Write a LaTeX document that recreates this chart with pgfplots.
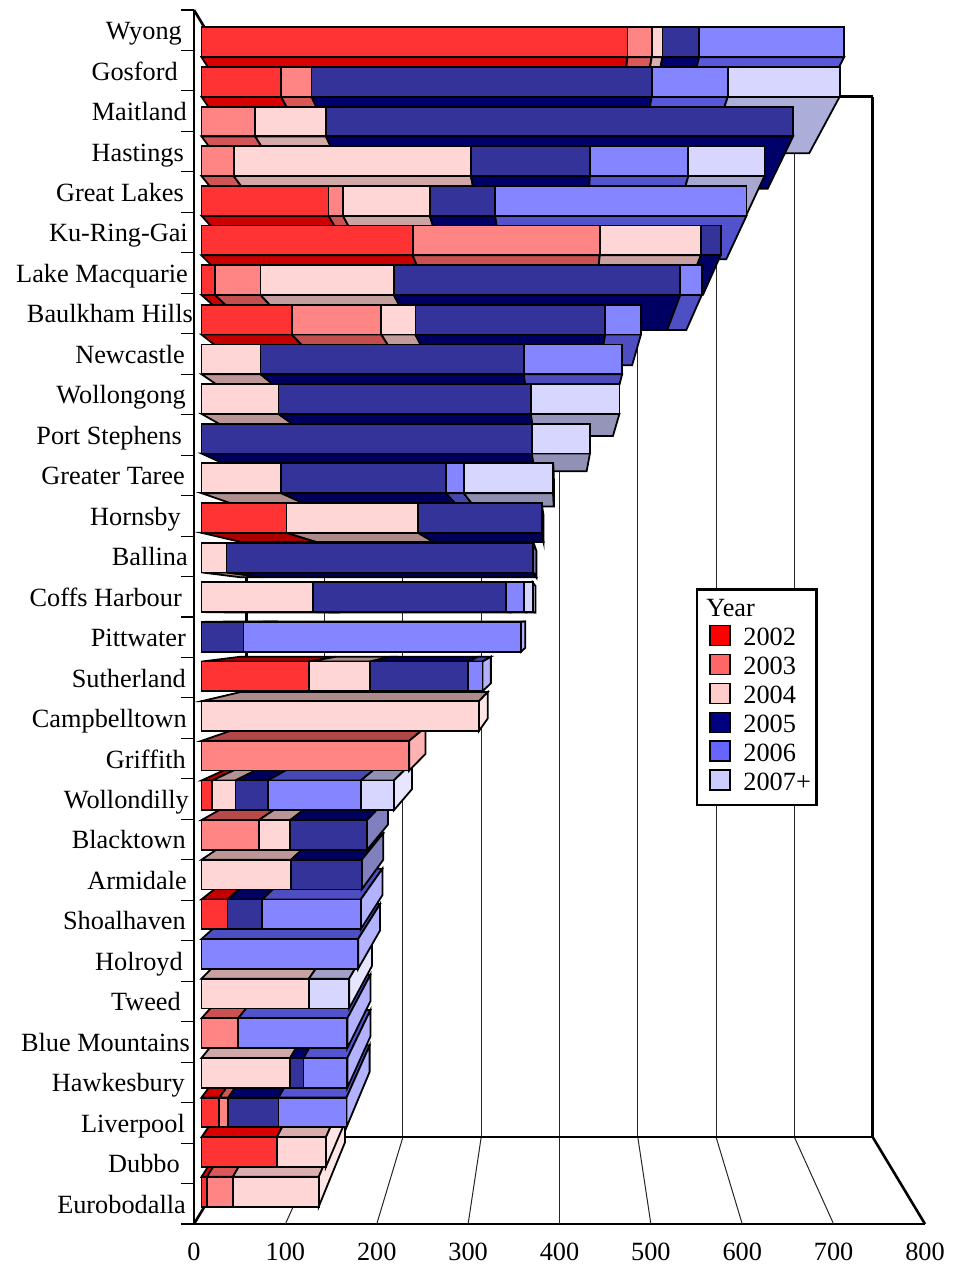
\documentclass[border=0pt]{standalone}
\usepackage{fontspec}
\setmainfont{Liberation Serif}
\usepackage{pgfplots}
\pgfplotsset{compat=1.18}

\definecolor{c02}{RGB}{255,0,0}
\definecolor{c03}{RGB}{255,102,102}
\definecolor{c04}{RGB}{255,204,204}
\definecolor{c05}{RGB}{0,0,128}
\definecolor{c06}{RGB}{102,102,255}
\definecolor{c07}{RGB}{204,204,255}
\tikzset{barln/.style={draw=black,line width=1.8pt,line join=miter}}

% perspective: scale about the centre (400,15) of the axis, s=1 is the front plane
\def\sone{0.9795}
\def\stwo{0.873}
\def\sback{0.857}
\def\projp#1,#2,#3;#4#5{%
  \pgfmathsetmacro#4{400+(#3)*((#1)-400)}%
  \pgfmathsetmacro#5{15+(#3)*((#2)-15)}}
\newcommand{\quadp}[5]{%
  \edef\qa{#2}\expandafter\projp\qa;\qxa\qya
  \edef\qa{#3}\expandafter\projp\qa;\qxb\qyb
  \edef\qa{#4}\expandafter\projp\qa;\qxc\qyc
  \edef\qa{#5}\expandafter\projp\qa;\qxd\qyd
  \edef\myplot{\noexpand\addplot[forget plot,barln,fill=#1] coordinates
    {(\qxa,\qya) (\qxb,\qyb) (\qxc,\qyc) (\qxd,\qyd)} -- cycle;}\myplot}
\newcommand{\wline}[3]{%
  \edef\qa{#2}\expandafter\projp\qa;\qxa\qya
  \edef\qa{#3}\expandafter\projp\qa;\qxb\qyb
  \edef\myplot{\noexpand\addplot[forget plot,#1] coordinates {(\qxa,\qya) (\qxb,\qyb)};}\myplot}
\newcommand{\gridv}[1]{%
  \wline{black!85,line width=1pt}{#1,0,1}{#1,0,\sback}%
  \wline{black!85,line width=1pt}{#1,0,\sback}{#1,30,\sback}}

\newcommand{\backseg}[2]{\ifdim#2pt>0pt
  \pgfmathsetmacro\cnext{\cum+#2}%
  \quadp{#1!\sh!black}{\cum,\yf,\sone}{\cnext,\yf,\sone}{\cnext,\yf,\stwo}{\cum,\yf,\stwo}%
  \edef\lastc{#1}\let\cum\cnext\fi}
\newcommand{\frontseg}[2]{\ifdim#2pt>0pt
  \pgfmathsetmacro\cnext{\cum+#2}%
  \quadp{#1!80!white}{\cum,\ya,\sone}{\cnext,\ya,\sone}{\cnext,\yb,\sone}{\cum,\yb,\sone}%
  \let\cum\cnext\fi}
% row, 2002, 2003, 2004, 2005, 2006, 2007+, right edge of label, label
\newcommand{\barrow}[9]{%
  \pgfmathsetmacro\ya{#1+0.125}%
  \pgfmathsetmacro\yb{#1+0.875}%
  \pgfmathtruncatemacro\sh{65+1.5*abs(#1+0.5-15)}%
  \ifnum#1>14 \let\yf\ya\else\let\yf\yb\fi
  \def\cum{0}%
  \backseg{c02}{#2}\backseg{c03}{#3}\backseg{c04}{#4}%
  \backseg{c05}{#5}\backseg{c06}{#6}\backseg{c07}{#7}%
  \ifdim\cum pt<400pt
    \quadp{\lastc!50!white}{\cum,\ya,\sone}{\cum,\yb,\sone}{\cum,\yb,\stwo}{\cum,\ya,\stwo}%
  \fi
  \def\cum{0}%
  \frontseg{c02}{#2}\frontseg{c03}{#3}\frontseg{c04}{#4}%
  \frontseg{c05}{#5}\frontseg{c06}{#6}\frontseg{c07}{#7}%
  \node[anchor=base east,inner sep=0pt,font=\lab,xshift={#8pt-194pt},yshift=-9.4pt]
    at (axis cs:0,#1.5) {#9};}
\newcommand{\lab}{\fontsize{26.3}{30}\selectfont}

\begin{document}
\begin{tikzpicture}
\begin{axis}[
  scale only axis, width=731pt, height=1214pt,
  xmin=0, xmax=800, ymin=0, ymax=30,
  clip=false,
  axis x line=bottom, axis y line=left,
  axis line style={-,line width=2.8pt,black},
  xtick={0,100,...,800},
  ytick={0,1,...,30},
  yticklabel=\empty,
  tick align=outside,
  major tick length=13pt,
  x tick style={draw=none},
  y tick style={black,line width=1.1pt},
  xticklabel style={font=\lab,/pgf/number format/assume math mode=true,yshift=-2pt},
  legend image code/.code={\path (38.5pt,0pt);\draw[#1,draw=black,line width=1.5pt] (12pt,-10pt) rectangle (32pt,10pt);},
  legend cell align=left,
  legend style={
    at={(axis cs:549,15.71)}, anchor=north west,
    draw=black, line width=2.5pt, fill=white, font=\lab,
    inner xsep=0pt, inner ysep=6.15pt, row sep=6.9pt,
    nodes={text height=21pt,text depth=1pt,inner ysep=0pt,inner xsep=5.5pt},
  },
]
% walls and floor
\gridv{100}\gridv{200}\gridv{300}\gridv{400}\gridv{500}\gridv{600}\gridv{700}
\wline{black,line width=2.6pt}{0,0,1}{0,0,\sback}
\wline{black,line width=2.6pt}{0,30,1}{0,30,\sback}
\wline{black,line width=2.6pt}{800,0,1}{800,0,\sback}
\wline{black,line width=2.6pt}{0,0,\sback}{800,0,\sback}
\wline{black,line width=2.6pt}{0,30,\sback}{800,30,\sback}
\wline{black,line width=2.6pt}{0,0,\sback}{0,30,\sback}
\wline{black,line width=2.6pt}{800,0,\sback}{800,30,\sback}
% outer rows first, towards the centre
\barrow{29}{476}{27}{12}{41}{162}{0}{182}{Wyong}
\barrow{28}{89}{34}{0}{380}{85}{125}{178}{Gosford}
\barrow{27}{0}{60}{79}{522}{0}{0}{187}{Maitland}
\barrow{26}{0}{36}{265}{133}{110}{85}{184}{Hastings}
\barrow{25}{142}{16}{97}{73}{281}{0}{184}{Great Lakes}
\barrow{24}{236}{209}{113}{22}{0}{0}{188}{Ku-Ring-Gai}
\barrow{23}{15}{51}{149}{320}{24}{0}{188}{Lake Macquarie}
\barrow{22}{101}{100}{38}{212}{40}{0}{193}{Baulkham Hills}
\barrow{21}{0}{0}{66}{294}{110}{0}{185}{Newcastle}
\barrow{20}{0}{0}{86}{282}{0}{99}{186}{Wollongong}
\barrow{19}{0}{0}{0}{369}{0}{65}{182}{Port Stephens}
\barrow{18}{0}{0}{89}{184}{20}{100}{185}{Greater Taree}
\barrow{17}{95}{0}{147}{138}{0}{0}{181}{Hornsby}
\barrow{16}{0}{0}{28}{342}{1}{0}{188}{Ballina}
\barrow{15}{0}{0}{125}{215}{20}{10}{182}{Coffs Harbour}
\barrow{0}{6}{29}{96}{0}{0}{0}{186}{Eurobodalla}
\barrow{1}{84}{0}{55}{0}{0}{0}{180}{Dubbo}
\barrow{2}{20}{10}{0}{56}{76}{0}{185}{Liverpool}
\barrow{3}{0}{0}{99}{15}{49}{0}{185}{Hawkesbury}
\barrow{4}{0}{41}{0}{0}{122}{0}{190}{Blue Mountains}
\barrow{5}{0}{0}{120}{0}{0}{45}{181}{Tweed}
\barrow{6}{0}{0}{0}{0}{175}{0}{183}{Holroyd}
\barrow{7}{29}{0}{0}{39}{110}{0}{186}{Shoalhaven}
\barrow{8}{0}{0}{100}{79}{0}{0}{187}{Armidale}
\barrow{9}{0}{64}{35}{86}{0}{0}{186}{Blacktown}
\barrow{10}{12}{0}{26}{36}{104}{37}{189}{Wollondilly}
\barrow{11}{0}{232}{0}{0}{0}{0}{186}{Griffith}
\barrow{12}{0}{0}{310}{0}{0}{0}{187}{Campbelltown}
\barrow{13}{120}{0}{68}{110}{16}{0}{186}{Sutherland}
\barrow{14}{0}{0}{0}{47}{310}{0}{186}{Pittwater}
% legend
\addlegendimage{empty legend}\addlegendentry{\hspace*{-37pt}Year}
\addlegendimage{fill=c02}\addlegendentry{2002}
\addlegendimage{fill=c03}\addlegendentry{2003}
\addlegendimage{fill=c04}\addlegendentry{2004}
\addlegendimage{fill=c05}\addlegendentry{2005}
\addlegendimage{fill=c06}\addlegendentry{2006}
\addlegendimage{legend image code/.code={\path (38.5pt,0pt) (0pt,-17.6pt);\draw[fill=c07,draw=black,line width=1.5pt] (12pt,-10pt) rectangle (32pt,10pt);}}\addlegendentry{2007+}
\end{axis}
\pgfresetboundingbox
\path[use as bounding box] (-194pt,-41pt) rectangle (772pt,1224pt);
\end{tikzpicture}
\end{document}
